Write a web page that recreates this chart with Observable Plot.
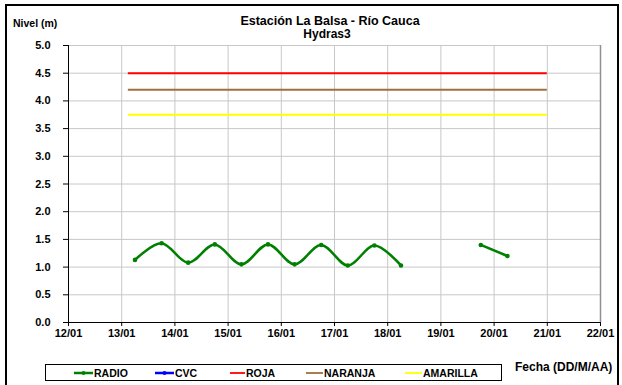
<!DOCTYPE html>
<html>
<head>
<meta charset="utf-8">
<script src="https://cdn.jsdelivr.net/npm/d3@7"></script>
<script src="https://cdn.jsdelivr.net/npm/@observablehq/plot@0.6"></script>
<style>
  html, body { margin: 0; padding: 0; background: #fff; }
  #wrap { position: relative; width: 622px; height: 385px; overflow: hidden; font-family: "Liberation Sans", Arial, sans-serif; font-weight: bold; color: #000; }
  #frame { position: absolute; left: 5px; top: 4px; width: 614px; height: 420px; border: 2px solid #000; box-sizing: border-box; }
  .txt { position: absolute; white-space: nowrap; line-height: 1; }
  #chart { position: absolute; left: 0; top: 0; }
  #legend { position: absolute; left: 45px; top: 364px; width: 457px; height: 17px; border: 1px solid #000; box-sizing: border-box; background: #fff; }
  .item { position: absolute; top: 0; height: 15px; display: flex; align-items: center; font-size: 10.5px; }
  .item svg { display: block; margin-right: 1px; }
</style>
</head>
<body>
<div id="wrap">
  <div id="frame"></div>
  <div id="chart"></div>
  <div class="txt" id="title" style="left:180px;width:300px;text-align:center;top:15px;font-size:12.5px;"></div>
  <div class="txt" id="subtitle" style="left:177px;width:300px;text-align:center;top:28px;font-size:12px;"></div>
  <div class="txt" id="ylab" style="left:13px;top:18px;font-size:10.5px;"></div>
  <div class="txt" id="xlab" style="left:515px;top:361px;font-size:12px;"></div>
  <div id="legend"></div>
</div>
<script>
// ---- data ----
const titleText = "Estación La Balsa - Río Cauca";
const subtitleText = "Hydras3";
const yLabel = "Nivel (m)";
const xLabel = "Fecha (DD/M/AA)";

const radioTimes = [
  "2012-01-13T06:00Z", "2012-01-13T18:00Z", "2012-01-14T06:00Z", "2012-01-14T18:00Z",
  "2012-01-15T06:00Z", "2012-01-15T18:00Z", "2012-01-16T06:00Z", "2012-01-16T18:00Z",
  "2012-01-17T06:00Z", "2012-01-17T18:00Z", "2012-01-18T06:00Z",
  "2012-01-19T18:00Z", "2012-01-20T06:00Z"
];
const radioLevels = [1.13, 1.43, 1.08, 1.41, 1.05, 1.41, 1.05, 1.40, 1.03, 1.39, 1.03, 1.40, 1.20];

const alertNames = ["ROJA", "NARANJA", "AMARILLA"];
const alertLevels = [4.5, 4.2, 3.75];
const alertStart = "2012-01-13T03:00Z";
const alertEnd = "2012-01-21T00:00Z";

const legendNames = ["RADIO", "CVC", "ROJA", "NARANJA", "AMARILLA"];

const xTickDates = ["2012-01-12", "2012-01-13", "2012-01-14", "2012-01-15", "2012-01-16", "2012-01-17",
  "2012-01-18", "2012-01-19", "2012-01-20", "2012-01-21", "2012-01-22"];
const yTicks = [0, 0.5, 1, 1.5, 2, 2.5, 3, 3.5, 4, 4.5, 5];

// ---- styles ----
const colors = { RADIO: "#008000", CVC: "#0000ff", ROJA: "#ff0000", NARANJA: "#a0703c", AMARILLA: "#ffff00" };

// ---- build ----
const radio = radioTimes.map((t, i) => ({ date: new Date(t), level: radioLevels[i] }));
// split into segments where the gap exceeds one day
let seg = 0;
radio.forEach((d, i) => {
  if (i > 0 && d.date - radio[i - 1].date > 86400000) seg++;
  d.seg = seg;
});
const alerts = alertNames.map((n, i) => ({ name: n, level: alertLevels[i], x1: new Date(alertStart), x2: new Date(alertEnd) }));
const xTicks = xTickDates.map(d => new Date(d + "T00:00Z"));
const xDomain = [xTicks[0], xTicks[xTicks.length - 1]];

const chart = Plot.plot({
  width: 622,
  height: 385,
  marginLeft: 68,
  marginRight: 22,
  marginTop: 45,
  marginBottom: 63,
  style: { fontFamily: "'Liberation Sans', Arial, sans-serif", fontSize: "11px", fontWeight: "bold", background: "transparent", color: "#000", overflow: "visible" },
  x: { type: "utc", domain: xDomain, label: null },
  y: { domain: [0, 5], label: null },
  marks: [
    Plot.gridX(xTicks, { stroke: "#c8c8c8", strokeOpacity: 1, strokeWidth: 1 }),
    Plot.gridY(yTicks, { stroke: "#c8c8c8", strokeOpacity: 1, strokeWidth: 1 }),
    Plot.ruleX([xDomain[1]], { stroke: "#909090", strokeWidth: 1.5 }),
    Plot.ruleY(alerts, { y: "level", x1: "x1", x2: "x2", stroke: d => colors[d.name], strokeWidth: 2 }),
    Plot.line(radio, { x: "date", y: "level", z: "seg", stroke: colors.RADIO, strokeWidth: 2.5, curve: "cardinal", tension: 0 }),
    Plot.dot(radio, { x: "date", y: "level", r: 2.3, fill: colors.RADIO, stroke: null }),
    Plot.ruleX([xDomain[0]], { stroke: "#000", strokeWidth: 1 }),
    Plot.ruleY([0], { stroke: "#000", strokeWidth: 1 }),
    Plot.axisX({ ticks: xTicks, tickFormat: d3.utcFormat("%d/%m"), tickSize: 4, tickPadding: 3, label: null }),
    Plot.axisY({ ticks: yTicks, tickFormat: d3.format(".1f"), tickSize: 5, tickPadding: 13, label: null })
  ]
});
document.getElementById("chart").appendChild(chart);

document.getElementById("title").textContent = titleText;
document.getElementById("subtitle").textContent = subtitleText;
document.getElementById("ylab").textContent = yLabel;
document.getElementById("xlab").textContent = xLabel;

// legend
const legendLeft = [28, 109, 184, 260, 359];
const legendLine = [19, 19, 15, 17, 17];
const legend = document.getElementById("legend");
legendNames.forEach((name, i) => {
  const item = document.createElement("div");
  item.className = "item";
  item.style.left = legendLeft[i] + "px";
  const w = legendLine[i];
  const marker = (name === "RADIO" || name === "CVC")
    ? `<circle cx="${w / 2}" cy="4" r="2" fill="${colors[name]}"/>` : "";
  item.innerHTML = `<svg width="${w}" height="8"><line x1="0" x2="${w}" y1="4" y2="4" stroke="${colors[name]}" stroke-width="${name === "RADIO" || name === "CVC" ? 2.5 : 1.8}"/>${marker}</svg><span>${name}</span>`;
  legend.appendChild(item);
});
</script>
</body>
</html>
